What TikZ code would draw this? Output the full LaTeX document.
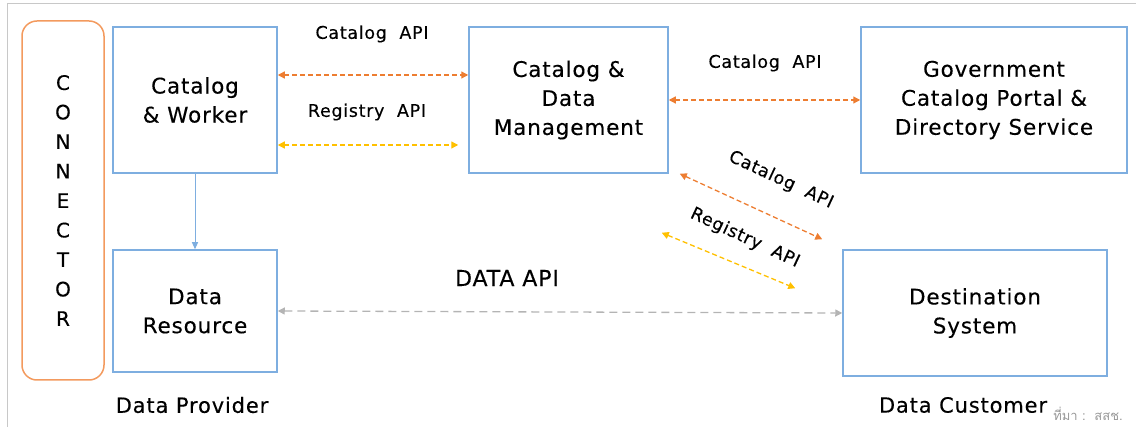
\documentclass[tikz,border=0pt]{standalone}
\usepackage{fontspec}
\setmainfont[LetterSpace=4,FakeBold=0.3]{DejaVu Sans}
\newfontfamily\thaifont[Script=Thai]{Loma}
\usetikzlibrary{arrows.meta}
\definecolor{boxblue}{HTML}{7EAEE0}
\definecolor{conorange}{HTML}{F39A5E}
\definecolor{apiorange}{HTML}{ED7D31}
\definecolor{apiyellow}{HTML}{FFC000}
\definecolor{dgray}{HTML}{B4B4B4}
\definecolor{framegray}{HTML}{C8C8C8}
\definecolor{srcgray}{HTML}{999999}
\begin{document}
\begin{tikzpicture}[x=1pt,y=-1pt,
  box/.style={draw=boxblue,line width=1.5pt,align=center,font=\fontsize{21.5}{29}\selectfont,inner sep=0pt},
  lbl/.style={font=\fontsize{17.5}{20}\selectfont,inner sep=0pt},
  orangeapi/.style={draw=apiorange,line width=1.3pt,dash pattern=on 5pt off 3pt,{Triangle[length=7pt,width=7pt]}-{Triangle[length=7pt,width=7pt]}},
  yellowapi/.style={draw=apiyellow,line width=1.3pt,dash pattern=on 5pt off 3pt,{Triangle[length=7pt,width=7pt]}-{Triangle[length=7pt,width=7pt]}},
  grayapi/.style={draw=dgray,line width=1.3pt,dash pattern=on 8pt off 5pt,{Triangle[length=7pt,width=7pt]}-{Triangle[length=7pt,width=7pt]}},
  caption/.style={font=\fontsize{21}{24}\selectfont,inner sep=0pt}
]
\useasboundingbox (0,0) rectangle (1136,427);
% outer frame
\draw[framegray,line width=1pt] (7,430) -- (7,4) -- (1140,4);
% connector
\node[draw=conorange,line width=1.5pt,rounded corners=15pt,minimum width=82pt,minimum height=359pt,inner sep=0pt,
      align=center,font=\fontsize{20}{29.5}\selectfont] (conn) at (63,200.5)
  {C\\O\\N\\N\\E\\C\\T\\O\\R};
% boxes
\node[box,minimum width=164pt,minimum height=146pt] (cw) at (195,100) {Catalog\\\& Worker};
\node[box,minimum width=164pt,minimum height=122pt] (dr) at (195,311) {Data\\Resource};
\node[box,minimum width=199pt,minimum height=146pt] (cdm) at (568.5,100) {Catalog \&\\Data\\Management};
\node[box,minimum width=266pt,minimum height=146pt] (gov) at (994,100) {Government\\Catalog Portal \&\\Directory Service};
\node[box,minimum width=264pt,minimum height=126pt] (dest) at (975,313) {Destination\\System};
% connectors
\draw[boxblue,line width=1pt,-{Triangle[length=7pt,width=6pt]}] (cw.south) -- (dr.north);
\draw[orangeapi] ([yshift=25pt]cw.east) -- ([yshift=25pt]cdm.west);
\draw[yellowapi] ([yshift=-45pt]cw.east) -- ([xshift=-10pt,yshift=-45pt]cdm.west);
\draw[orangeapi] (cdm.east) -- (gov.west);
\coordinate (d1s) at ([xshift=11pt,yshift=0pt]cdm.south east);
\coordinate (d1e) at ([xshift=-20pt,yshift=10pt]dest.north west);
\coordinate (d2s) at ([xshift=-7pt,yshift=-59pt]cdm.south east);
\coordinate (d2e) at ([xshift=-47pt,yshift=-39pt]dest.north west);
\draw[orangeapi] (d1s) -- (d1e);
\draw[yellowapi] (d2s) -- (d2e);
\draw[grayapi] (dr.east) -- (dest.west);
% labels
\node[lbl] (l1) at (372,34) {Catalog\ \ API};
\node[lbl] (l2) at (367,112) {Registry\ \ API};
\node[lbl] (l3) at (765,63) {Catalog\ \ API};
\node[lbl,rotate=-25] (l4) at (781,180) {Catalog\ \ API};
\node[lbl,rotate=-25] (l5) at (745,238) {Registry\ \ API};
\node[font=\fontsize{22}{24}\selectfont,inner sep=0pt] (l6) at (507,278) {DATA API};
\node[caption] (p) at (192,405) {Data Provider};
\node[caption] (c) at (963,405) {Data Customer};
\node[font=\fontsize{13}{15}\selectfont,text=srcgray,inner sep=0pt] (src) at (1088,414) {\thaifont ที่มา :\ \ สสช.};
\end{tikzpicture}
\end{document}
